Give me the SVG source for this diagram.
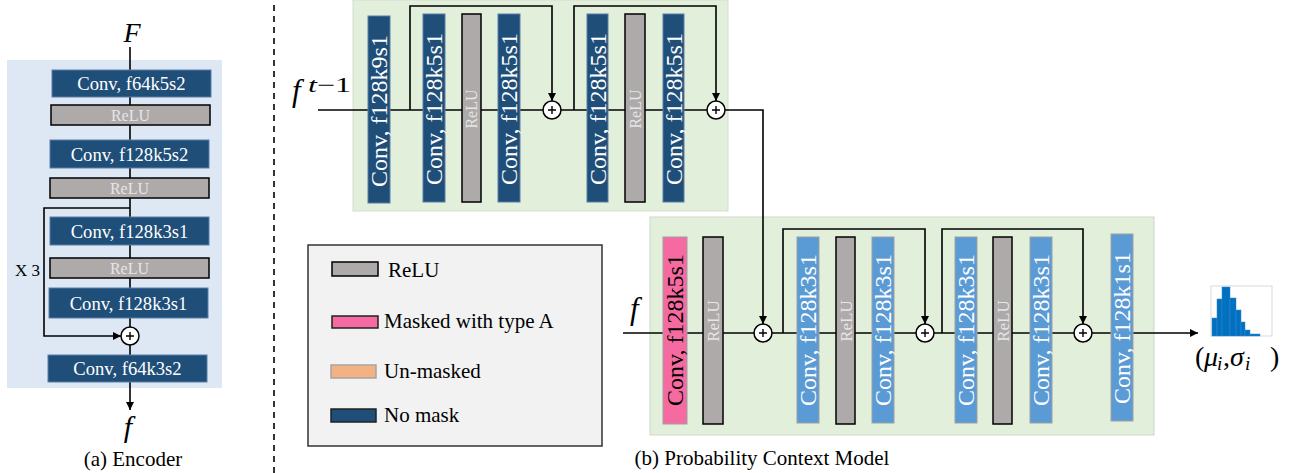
<svg xmlns="http://www.w3.org/2000/svg" width="1291" height="473" viewBox="0 0 1291 473" font-family="'Liberation Serif', 'Times New Roman', serif">
<style>
text{font-family:'Liberation Serif','Times New Roman',serif;}
.dk{fill:#1f4e79;stroke:#5a7fa8;stroke-width:1;}
.lb{fill:#5b9bd5;stroke:#a0a0a0;stroke-width:1;}
.pk{fill:#f56aa0;stroke:#a0a0a0;stroke-width:1;}
.rl{fill:#aeaaaa;stroke:#000;stroke-width:1.5;}
.wt{fill:#fff;font-size:18.6px;text-anchor:middle;}
.vt{fill:#fff;font-size:24px;text-anchor:middle;}
.rt{fill:#e6e6e6;font-size:16px;text-anchor:middle;}
.ln{fill:none;stroke:#000;stroke-width:1.6;}
.pc{fill:#fff;stroke:#000;stroke-width:1.5;}
.pl{stroke:#000;stroke-width:1.4;}
.math{font-style:italic;fill:#000;}
.cap{font-size:21px;fill:#000;}
.lg{font-size:21px;fill:#000;}
</style>
<defs>
<marker id="ah" viewBox="0 0 10 10" refX="10" refY="5" markerWidth="8" markerHeight="8" markerUnits="userSpaceOnUse" orient="auto">
<path d="M0,0 L10,5 L0,10 z" fill="#000"/>
</marker>
<g id="plus"><circle r="9" class="pc"/><path d="M-4,0 H4 M0,-4 V4" class="pl"/></g>
</defs>

<!-- backgrounds -->
<rect id="enc-bg" x="7" y="60" width="215" height="328" fill="#dde8f4"/>
<rect id="top-bg" x="353" y="0" width="375" height="211" fill="#e2efda" stroke="#d6dcd2" stroke-width="1"/>
<rect id="low-bg" x="650" y="217" width="504" height="218" fill="#e2efda" stroke="#cfd5cb" stroke-width="1"/>
<line x1="274" y1="5" x2="274" y2="473" stroke="#333" stroke-width="2" stroke-dasharray="6 5"/>

<!-- connectors -->
<g id="connectors">
<path class="ln" d="M130,47 V355"/>
<path class="ln" d="M130,382 V410" marker-end="url(#ah)"/>
<path class="ln" d="M130,208 H44 V336 H121" marker-end="url(#ah)"/>
<path class="ln" d="M318,110 H707"/>
<path class="ln" d="M410,110 V6 H552 V101" marker-end="url(#ah)"/>
<path class="ln" d="M574,110 V6 H716 V101" marker-end="url(#ah)"/>
<path class="ln" d="M725,110 H763 V324" marker-end="url(#ah)"/>
<path class="ln" d="M623,333 H1198" marker-end="url(#ah)"/>
<path class="ln" d="M783,333 V229 H925 V324" marker-end="url(#ah)"/>
<path class="ln" d="M942,333 V229 H1083 V324" marker-end="url(#ah)"/>
</g>

<!-- encoder -->
<g id="enc-F"><text x="132" y="42" font-size="28" class="math" text-anchor="middle">F</text></g>
<g id="enc1"><rect class="dk" x="52" y="70" width="159" height="27"/><text class="wt" x="131.5" y="90">Conv, f64k5s2</text></g>
<g id="enc2"><rect class="rl" x="51" y="105" width="159" height="20"/><text class="rt" x="130.5" y="121">ReLU</text></g>
<g id="enc3"><rect class="dk" x="50" y="140" width="159" height="28"/><text class="wt" x="129.5" y="161">Conv, f128k5s2</text></g>
<g id="enc4"><rect class="rl" x="50" y="178" width="159" height="20"/><text class="rt" x="129.5" y="194">ReLU</text></g>
<g id="enc5"><rect class="dk" x="50" y="217" width="159" height="28"/><text class="wt" x="129.5" y="238">Conv, f128k3s1</text></g>
<g id="enc6"><rect class="rl" x="50" y="258" width="159" height="20"/><text class="rt" x="129.5" y="274">ReLU</text></g>
<g id="enc7"><rect class="dk" x="49" y="288" width="159" height="30"/><text class="wt" x="128.5" y="310">Conv, f128k3s1</text></g>
<g id="enc-plus"><use href="#plus" x="130" y="336"/></g>
<g id="enc8"><rect class="dk" x="48" y="355" width="159" height="27"/><text class="wt" x="127.5" y="375">Conv, f64k3s2</text></g>
<g id="enc-x3"><text x="15" y="276" font-size="17" fill="#000">X 3</text></g>
<g id="enc-f"><text x="128" y="437" font-size="30" class="math" text-anchor="middle">f</text></g>
<text class="cap" x="133" y="466" text-anchor="middle">(a) Encoder</text>

<!-- top panel -->
<g id="ft1"><text x="292" y="101" font-size="31" class="math">f</text><text x="308" y="92" font-size="21" fill="#000" textLength="43" lengthAdjust="spacingAndGlyphs"><tspan font-style="italic">t</tspan>−1</text></g>
<g id="t1"><rect class="dk" x="368" y="16" width="22" height="187"/><text class="vt" transform="translate(387,111) rotate(-90)">Conv, f128k9s1</text></g>
<g id="t2"><rect class="dk" x="423" y="14" width="22" height="188"/><text class="vt" transform="translate(442,109) rotate(-90)">Conv, f128k5s1</text></g>
<g id="t3"><rect class="rl" x="462" y="14" width="19" height="188"/><text class="rt" transform="translate(477,109) rotate(-90)">ReLU</text></g>
<g id="t4"><rect class="dk" x="498" y="14" width="22" height="188"/><text class="vt" transform="translate(517,109) rotate(-90)">Conv, f128k5s1</text></g>
<g id="tp1"><use href="#plus" x="552" y="110"/></g>
<g id="t5"><rect class="dk" x="587" y="14" width="21" height="188"/><text class="vt" transform="translate(605.5,109) rotate(-90)">Conv, f128k5s1</text></g>
<g id="t6"><rect class="rl" x="625" y="14" width="20" height="188"/><text class="rt" transform="translate(640.5,109) rotate(-90)">ReLU</text></g>
<g id="t7"><rect class="dk" x="663" y="14" width="21" height="188"/><text class="vt" transform="translate(681.5,109) rotate(-90)">Conv, f128k5s1</text></g>
<g id="tp2"><use href="#plus" x="716" y="110"/></g>

<!-- legend -->
<g id="legend">
<rect x="308" y="245" width="294" height="201" fill="#f2f2f2" stroke="#333" stroke-width="1.5"/>
<rect x="332" y="262" width="46" height="14" class="rl"/>
<text class="lg" x="388" y="277">ReLU</text>
<rect x="332" y="316" width="46" height="12" fill="#f56aa0" stroke="#222" stroke-width="1.5"/>
<text class="lg" x="384" y="328">Masked with type A</text>
<rect x="331" y="365" width="45" height="13" fill="#f4b183" stroke="#a5a5a5" stroke-width="1.5"/>
<text class="lg" x="384" y="378">Un-masked</text>
<rect x="331" y="409" width="45" height="13" fill="#1f4e79" stroke="#222" stroke-width="1.5"/>
<text class="lg" x="384" y="422">No mask</text>
</g>

<!-- lower panel -->
<g id="lf"><text x="630" y="319" font-size="31" class="math">f</text></g>
<g id="l1"><rect class="pk" x="663" y="237" width="24" height="187"/><text class="vt" style="fill:#000" transform="translate(683,330) rotate(-90)">Conv, f128k5s1</text></g>
<g id="l2"><rect class="rl" x="703" y="237" width="20" height="187"/><text class="rt" style="font-size:17px" transform="translate(719,321) rotate(-90)">ReLU</text></g>
<g id="lp1"><use href="#plus" x="763" y="333"/></g>
<g id="l3"><rect class="lb" x="797" y="237" width="22" height="186"/><text class="vt" transform="translate(816,330) rotate(-90)">Conv, f128k3s1</text></g>
<g id="l4"><rect class="rl" x="836" y="237" width="19" height="187"/><text class="rt" style="font-size:17px" transform="translate(851.5,321) rotate(-90)">ReLU</text></g>
<g id="l5"><rect class="lb" x="872" y="237" width="22" height="186"/><text class="vt" transform="translate(891,330) rotate(-90)">Conv, f128k3s1</text></g>
<g id="lp2"><use href="#plus" x="925" y="333"/></g>
<g id="l6"><rect class="lb" x="955" y="237" width="22" height="186"/><text class="vt" transform="translate(974,330) rotate(-90)">Conv, f128k3s1</text></g>
<g id="l7"><rect class="rl" x="993" y="237" width="19" height="187"/><text class="rt" style="font-size:17px" transform="translate(1008.5,321) rotate(-90)">ReLU</text></g>
<g id="l8"><rect class="lb" x="1030" y="237" width="22" height="186"/><text class="vt" transform="translate(1049,330) rotate(-90)">Conv, f128k3s1</text></g>
<g id="lp3"><use href="#plus" x="1083" y="333"/></g>
<g id="l9"><rect class="lb" x="1111" y="234" width="22" height="187"/><text class="vt" transform="translate(1130,328) rotate(-90)">Conv, f128k1s1</text></g>

<!-- histogram output -->
<g id="hist">
<rect x="1211" y="286" width="61" height="50" fill="#fff" stroke="#d9d9d9" stroke-width="1"/>
<g fill="#0070c0" stroke="#3a86cc" stroke-width="0.5">
<rect x="1212" y="318" width="5" height="18"/>
<rect x="1217" y="299" width="5" height="37"/>
<rect x="1222" y="287" width="8" height="49"/>
<rect x="1230" y="298" width="6" height="38"/>
<rect x="1236" y="310" width="5" height="26"/>
<rect x="1241" y="322" width="4" height="14"/>
<rect x="1245" y="330" width="5" height="6"/>
<rect x="1250" y="334" width="10" height="2"/>
</g>
</g>
<g id="out-label"><text y="366" font-size="28" fill="#000"><tspan x="1195">(</tspan><tspan x="1204" font-style="italic">μ</tspan><tspan x="1217" dy="4" font-size="19" font-style="italic">i</tspan><tspan x="1223" dy="-4">,</tspan><tspan x="1230" font-style="italic">σ</tspan><tspan x="1245" dy="4" font-size="19" font-style="italic">i</tspan><tspan x="1270" dy="-4">)</tspan></text></g>

<text class="cap" x="762" y="465" text-anchor="middle">(b) Probability Context Model</text>
</svg>
